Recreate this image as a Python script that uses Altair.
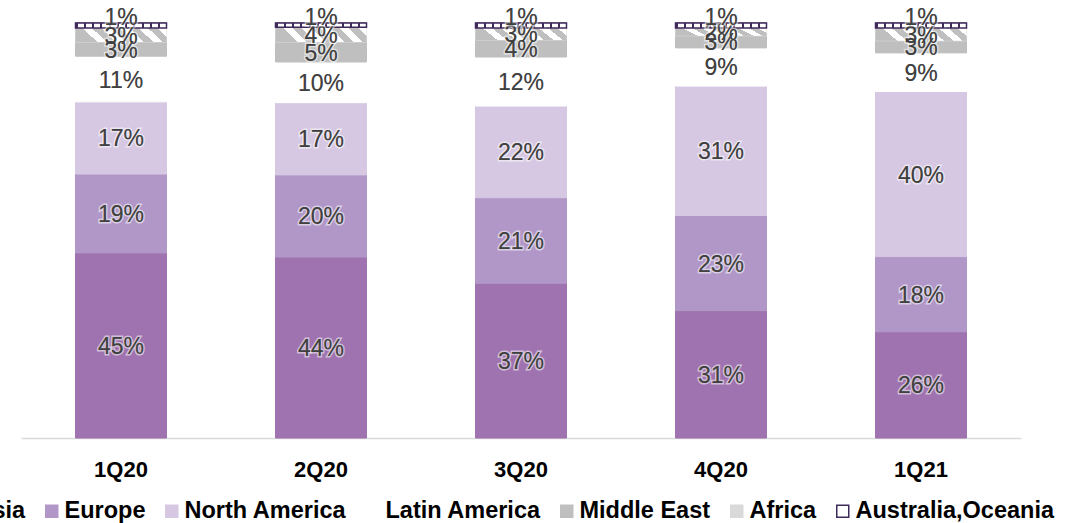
import altair as alt
import pandas as pd

quarters = ["1Q20", "2Q20", "3Q20", "4Q20", "1Q21"]
regions = ["Asia", "Europe", "North America", "Latin America", "Middle East", "Africa", "Australia,Oceania"]
asia = [44.6, 43.6, 37.3, 30.7, 25.6]
europe = [19.0, 19.8, 20.6, 22.9, 18.1]
north_america = [17.4, 17.4, 22.1, 31.2, 39.8]
latin_america = [11.0, 9.8, 11.8, 9.2, 9.3]
middle_east = [3.4, 4.8, 4.1, 2.9, 2.9]
africa = [3.4, 3.6, 2.9, 1.9, 3.1]
oceania = [1.2, 1.0, 1.2, 1.2, 1.2]

series = [asia, europe, north_america, latin_america, middle_east, africa, oceania]
rows = []
for ri, (name, vals) in enumerate(zip(regions, series)):
    for q, v in zip(quarters, vals):
        rows.append({"quarter": q, "region": name, "order": ri, "value": v, "label": f"{v:.0f}%"})
df = pd.DataFrame(rows)

fills = ["#9F73AF", "#B197C8", "#D6C8E3", "#FFFFFF", "#BFBFBF", "#D9D9D9", "#FFFFFF"]
strokes = ["#9F73AF", "#B197C8", "#D6C8E3", "#FFFFFF", "#BFBFBF", "#D9D9D9", "#3F2B5B"]

FONT = "Liberation Sans"

# hatch gradient for Africa (diagonal stripes)
n = 5
hatch_stops = []
for i in range(n):
    hatch_stops += [
        alt.GradientStop(offset=i / n, color="#BFBFBF"),
        alt.GradientStop(offset=(i + 0.5) / n, color="#BFBFBF"),
        alt.GradientStop(offset=(i + 0.5) / n, color="#FFFFFF"),
        alt.GradientStop(offset=(i + 1) / n, color="#FFFFFF"),
    ]
hatch = alt.Gradient(gradient="linear", stops=hatch_stops, x1=0, y1=0.165, x2=1, y2=0)

# dashed pattern for Australia,Oceania
m = 11
dash_stops = []
for i in range(m):
    dash_stops += [
        alt.GradientStop(offset=i / m, color="#3F2B5B"),
        alt.GradientStop(offset=(i + 0.25) / m, color="#3F2B5B"),
        alt.GradientStop(offset=(i + 0.25) / m, color="#FFFFFF"),
        alt.GradientStop(offset=(i + 1) / m, color="#FFFFFF"),
    ]
dashes = alt.Gradient(gradient="linear", stops=dash_stops, x1=0, y1=0, x2=1, y2=0)

base = alt.Chart(df).transform_stack(
    stack="value", as_=["y0", "y1"], groupby=["quarter"],
    sort=[alt.SortField("order", order="ascending")], offset="normalize"
).transform_calculate(mid="(datum.y0 + datum.y1) / 2")

x = alt.X(
    "quarter:N", sort=quarters, title=None,
    scale=alt.Scale(paddingInner=0.545, paddingOuter=0.2725),
    axis=alt.Axis(labelAngle=0, ticks=False, domainColor="#D9D9D9", domainWidth=1.5,
                  labelFont=FONT, labelFontWeight="bold", labelFontSize=22,
                  labelColor="#000000", labelPadding=21),
)
yscale = alt.Scale(domain=[0, 1], nice=False)

legend = alt.Legend(
    title=None, orient="none", legendX=-70, legendY=476, direction="horizontal",
    columns=7, symbolType="square", symbolSize=144, symbolStrokeWidth=1.5,
    labelFont=FONT, labelFontWeight="bold", labelFontSize=23.5, labelColor="#000000",
    labelOffset=1, columnPadding=14, labelLimit=400,
)

bars = base.mark_bar(strokeWidth=1).encode(
    x=x,
    y=alt.Y("y0:Q", scale=yscale, axis=None),
    y2="y1:Q",
    color=alt.Color("region:N", sort=regions, scale=alt.Scale(domain=regions, range=fills), legend=legend),
    stroke=alt.Stroke("region:N", sort=regions, scale=alt.Scale(domain=regions, range=strokes), legend=legend),
)

africa_layer = base.transform_filter(alt.datum.region == "Africa").mark_bar(fill=hatch).encode(
    x=x, y=alt.Y("y0:Q", scale=yscale, axis=None), y2="y1:Q"
)
aus_layer = base.transform_filter(alt.datum.region == "Australia,Oceania").mark_bar(
    fill=dashes, stroke="#3F2B5B", strokeWidth=1.5
).encode(x=x, y=alt.Y("y0:Q", scale=yscale, axis=None), y2="y1:Q")

main_lbl = base.transform_filter(alt.datum.region != "Australia,Oceania")
aus_lbl = base.transform_filter(alt.datum.region == "Australia,Oceania")

def text_layers(src, dy):
    glow = src.mark_text(font=FONT, fontSize=23, stroke="#FFFFFF", strokeWidth=3,
                         strokeOpacity=0.55, fill="#404040", dy=dy).encode(
        x=x, y=alt.Y("mid:Q", scale=yscale, axis=None), text="label:N")
    txt = src.mark_text(font=FONT, fontSize=23, fill="#404040", dy=dy).encode(
        x=x, y=alt.Y("mid:Q", scale=yscale, axis=None), text="label:N")
    return [glow, txt]

chart = alt.layer(
    bars, africa_layer, aus_layer, *text_layers(main_lbl, 1.5), *text_layers(aus_lbl, -7)
).properties(
    width=1000, height=415,
    autosize=alt.AutoSizeParams(type="none"),
    padding={"left": 21, "top": 23, "right": 55, "bottom": 85},
    background="#FFFFFF",
).configure_view(stroke=None)

chart.save("out.html", embed_options={"renderer": "svg", "actions": False})
